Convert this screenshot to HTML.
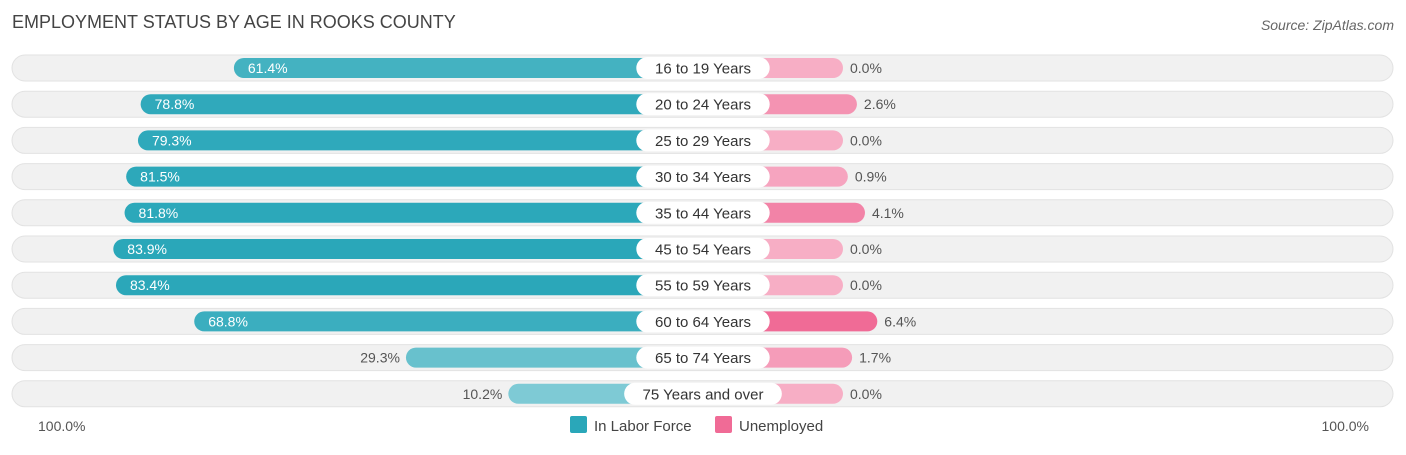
<!DOCTYPE html>
<html><head><meta charset="utf-8"><style>
body{margin:0;background:#fff;font-family:"Liberation Sans",sans-serif;}
svg text{font-family:"Liberation Sans",sans-serif;}
</style></head><body>
<svg id="c" width="1406" height="450" xmlns="http://www.w3.org/2000/svg">
<text x="12" y="28" font-size="18" fill="#444">EMPLOYMENT STATUS BY AGE IN ROOKS COUNTY</text>
<text x="1394" y="30" font-size="14" fill="#666" font-style="italic" text-anchor="end">Source: ZipAtlas.com</text>
<g id="rows"></g>
<text x="38" y="431" font-size="14" fill="#555">100.0%</text>
<text x="1369" y="431" font-size="14" fill="#555" text-anchor="end">100.0%</text>
<g>
<rect x="570" y="416" width="17" height="17" rx="2" fill="#2aa7b9"/>
<text x="594" y="431" font-size="15" fill="#444">In Labor Force</text>
<rect x="715" y="416" width="17" height="17" rx="2" fill="#f06b96"/>
<text x="739" y="431" font-size="15" fill="#444">Unemployed</text>
</g>
</svg>
<script>
const categories=["16 to 19 Years","20 to 24 Years","25 to 29 Years","30 to 34 Years","35 to 44 Years","45 to 54 Years","55 to 59 Years","60 to 64 Years","65 to 74 Years","75 Years and over"];
const laborForce=[61.4,78.8,79.3,81.5,81.8,83.9,83.4,68.8,29.3,10.2];
const unemployed=[0.0,2.6,0.0,0.9,4.1,0.0,0.0,6.4,1.7,0.0];
const NS="http://www.w3.org/2000/svg";
const cx=703,off=140,scale=5.36,y0=68,step=36.2;
function xL(v){return cx-off-v*scale;}
function xR(v){return cx+off+v*scale;}
function mix(c,t){const w=[255,255,255];return "rgb("+c.map((a,i)=>Math.round(w[i]+(a-w[i])*t)).join(",")+")";}
function el(tag,attrs,parent){const e=document.createElementNS(NS,tag);for(const k in attrs)e.setAttribute(k,attrs[k]);parent.appendChild(e);return e;}
const g=document.getElementById("rows");
const maxL=Math.max(...laborForce),maxU=Math.max(...unemployed);
categories.forEach((cat,i)=>{
  const y=y0+i*step;
  const row=el("g",{},g);
  
  
  const bg=el("rect",{x:12,y:y-13,width:1381,height:26,rx:13,fill:"#f1f1f1",stroke:"#e2e2e2","stroke-width":1},row);
  
  
  const lv=laborForce[i],uv=unemployed[i];
  const tl=0.55+0.45*(lv/maxL);
  const lb=el("rect",{x:xL(lv),y:y-10,width:cx-xL(lv),height:20,rx:10,fill:mix([42,167,185],tl)},row);
  
  
  const tu=0.55+0.45*(maxU?uv/maxU:0);
  const ub=el("rect",{x:cx,y:y-10,width:xR(uv)-cx,height:20,rx:10,fill:mix([240,107,150],tu)},row);
  
  
  const inside=lv>40;
  const lt=el("text",{x:inside?xL(lv)+14:xL(lv)-6,y:y+5,"font-size":14,fill:inside?"#fff":"#555","text-anchor":inside?"start":"end"},row);
  lt.textContent=lv.toFixed(1)+"%";
  
  
  const ut=el("text",{x:xR(uv)+7,y:y+5,"font-size":14,fill:"#555"},row);
  ut.textContent=uv.toFixed(1)+"%";
  
  
  const tw=cat.length*8.1+20;
  const pill=el("rect",{x:cx-tw/2,y:y-11,width:tw,height:22,rx:11,fill:"#fff"},row);
  
  
  const ct=el("text",{x:cx,y:y+5.5,"font-size":15,fill:"#333","text-anchor":"middle"},row);
  ct.textContent=cat;
  
  
});
</script>
</body></html>
